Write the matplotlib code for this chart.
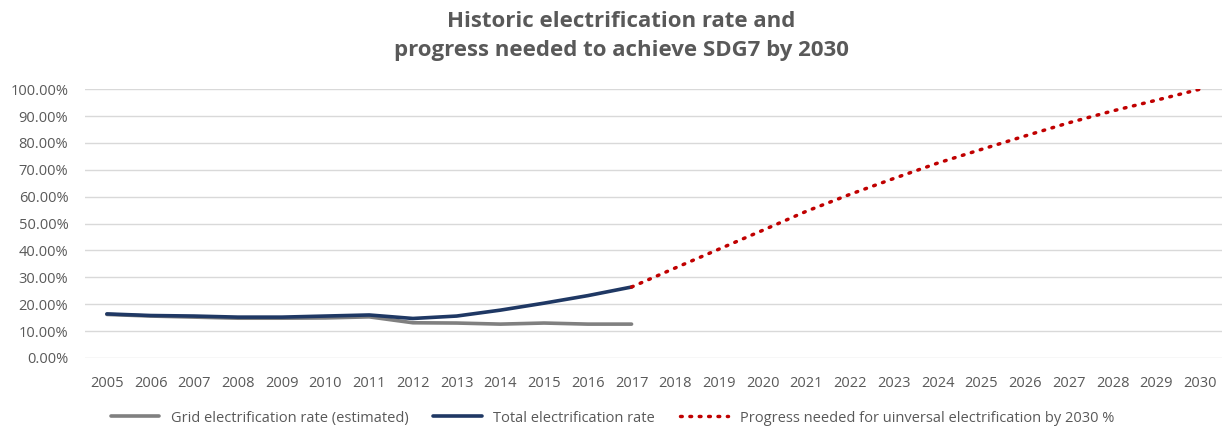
import matplotlib.pyplot as plt
from matplotlib.ticker import PercentFormatter

plt.rcParams["font.family"] = ["Open Sans", "DejaVu Sans"]

years = list(range(2005, 2031))
hist_years = list(range(2005, 2018))
future_years = list(range(2017, 2031))

grid_rate = [16.2, 15.6, 15.2, 14.8, 14.8, 14.9, 15.3, 13.1, 13.0, 12.6, 13.0, 12.6, 12.6]
total_rate = [16.4, 15.8, 15.6, 15.2, 15.2, 15.6, 16.0, 14.7, 15.6, 17.8, 20.4, 23.2, 26.4]
needed = [26.4, 33.5, 40.5, 47.5, 54.6, 60.9, 66.8, 72.5, 77.6, 82.6, 87.5, 91.9, 95.9, 100.0]

text_col = "#595959"

fig = plt.figure(figsize=(12.25, 4.28), dpi=100)
ax = fig.add_axes([0.0694, 0.1636, 0.928, 0.628])

ax.plot(hist_years, grid_rate, color="#808080", lw=2.6, solid_capstyle="round",
        label="Grid electrification rate (estimated)")
ax.plot(hist_years, total_rate, color="#1F3864", lw=2.6, solid_capstyle="round",
        label="Total electrification rate")
ax.plot(future_years, needed, color="#C00000", lw=2.5, linestyle=(0, (0.5, 2.2)),
        dash_capstyle="round", label="Progress needed for uinversal electrification by 2030 %")

ax.set_xlim(2004.5, 2030.5)
ax.set_ylim(0, 100)
ax.set_xticks(years)
ax.set_yticks(range(0, 101, 10))
ax.yaxis.set_major_formatter(PercentFormatter(decimals=2))
ax.grid(axis="y", color="#D9D9D9", lw=1)
ax.set_axisbelow(True)
for s in ax.spines.values():
    s.set_visible(False)
ax.tick_params(axis="both", length=0, labelsize=10.5, colors=text_col)
ax.tick_params(axis="x", pad=13)
ax.tick_params(axis="y", pad=12)

fig.suptitle("Historic electrification rate and\nprogress needed to achieve SDG7 by 2030",
             fontsize=16, fontweight="bold", color=text_col, y=0.975,
             x=0.507, linespacing=1.5)

leg = fig.legend(loc="lower center", ncol=3, frameon=False, fontsize=10.5,
                 handlelength=3.3, columnspacing=1.7, bbox_to_anchor=(0.5, -0.025))
for t in leg.get_texts():
    t.set_color(text_col)

fig.savefig("out.png", dpi=100)
